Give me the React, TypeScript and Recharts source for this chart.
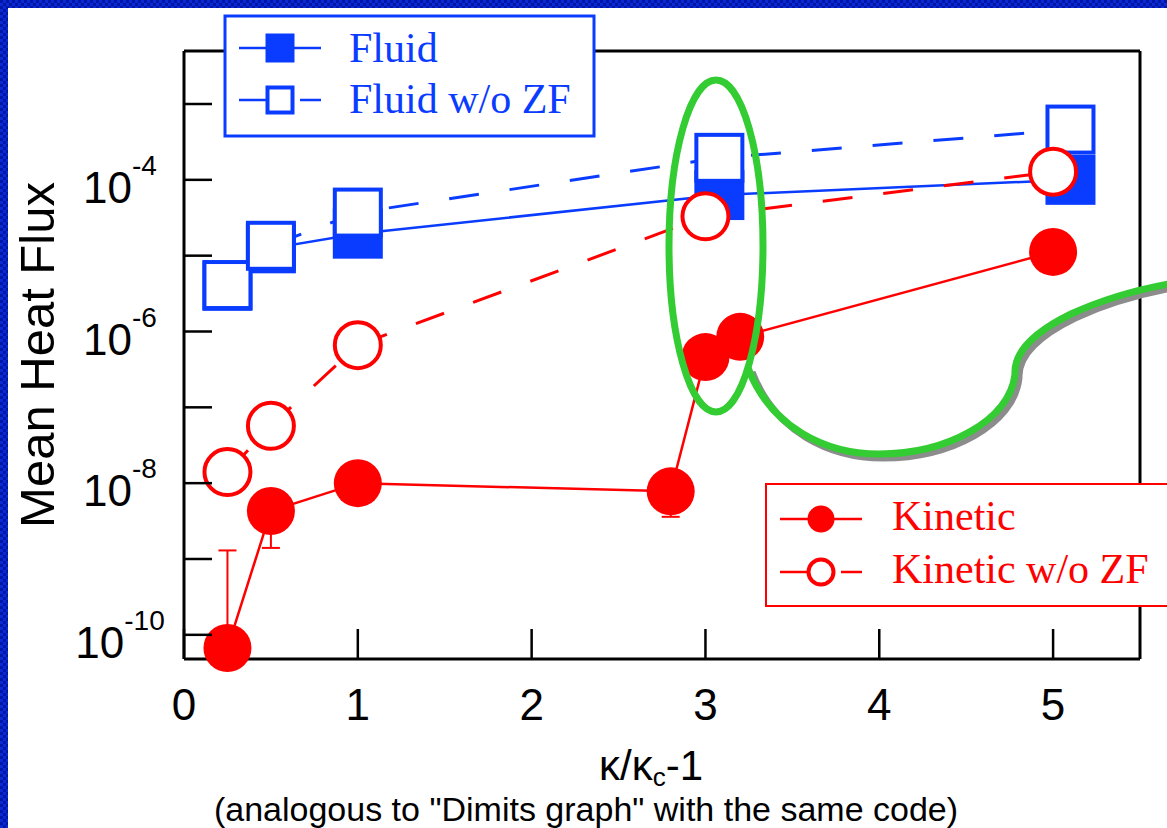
import React from "react";
import { ErrorBar, Line, LineChart, XAxis, YAxis } from "recharts";

// values (heat flux is on a log axis)
const fluidX = [0.25, 0.5, 1, 3.08, 5.1];
const fluidFlux = [4.0e-6, 1.25e-5, 1.95e-5, 6.3e-5, 1.0e-4];

const fluidNoZfX = [0.25, 0.5, 1, 3.08, 5.1];
const fluidNoZfFlux = [4.1e-6, 1.35e-5, 3.7e-5, 1.95e-4, 4.6e-4];

const kineticX = [0.25, 0.5, 1, 2.8, 3, 3.2, 5];
const kineticFlux = [6.7e-11, 4.3e-9, 1.0e-8, 7.8e-9, 4.6e-7, 8.5e-7, 1.12e-5];
const kineticErrLow = [0, 2.9e-9, 0, 4.2e-9, 0, 0, 0];
const kineticErrHigh = [1.23e-9, 0, 0, 0, 0, 0, 0];

const kineticNoZfX = [0.25, 0.5, 1, 3, 5];
const kineticNoZfFlux = [1.4e-8, 5.7e-8, 6.6e-7, 3.3e-5, 1.28e-4];

const xTicks = [0, 1, 2, 3, 4, 5];
const yTicks = [1e-10, 1e-9, 1e-8, 1e-7, 1e-6, 1e-5, 1e-4, 1e-3];
const xDomain = [0, 5.5];
const yDomain = [4.8e-11, 5.0e-3];

const BLUE = "#0a3cff";
const RED = "#ff0000";
const GREEN = "#33cc33";
const SANS = "'Liberation Sans', Arial, sans-serif";
const SERIF = "'Liberation Serif', 'Times New Roman', serif";

const zip = (xs: number[], ys: number[]) => xs.map((x, i) => ({ x, y: ys[i] }));

const fluidData = zip(fluidX, fluidFlux);
const fluidNoZfData = zip(fluidNoZfX, fluidNoZfFlux);
const kineticData = kineticX.map((x, i) => ({
  x,
  y: kineticFlux[i],
  err: [kineticErrLow[i], kineticErrHigh[i]]
}));
const kineticNoZfData = zip(kineticNoZfX, kineticNoZfFlux);

type Series = {
  name: string;
  color: string;
  marker: "square" | "circle";
  filled: boolean;
  dashed: boolean;
};

const fluidSeries: Series[] = [
  { name: "Fluid", color: BLUE, marker: "square", filled: true, dashed: false },
  { name: "Fluid w/o ZF", color: BLUE, marker: "square", filled: false, dashed: true }
];
const kineticSeries: Series[] = [
  { name: "Kinetic", color: RED, marker: "circle", filled: true, dashed: false },
  { name: "Kinetic w/o ZF", color: RED, marker: "circle", filled: false, dashed: true }
];

const DASH = "30 31";

function Marker({ s, cx, cy, size }: { s: Series; cx: number; cy: number; size: number }) {
  if (s.marker === "square") {
    const h = size / 2 - 2;
    return (
      <rect x={cx - h} y={cy - h} width={h * 2} height={h * 2} fill={s.filled ? s.color : "#fff"} stroke={s.color} strokeWidth={4} />
    );
  }
  if (s.filled) return <circle cx={cx} cy={cy} r={size / 2 - 1} fill={s.color} />;
  return <circle cx={cx} cy={cy} r={size / 2 - 2} fill="#fff" stroke={s.color} strokeWidth={4} />;
}

function makeDot(s: Series) {
  return (p: any) => {
    if (p.cx == null || p.cy == null) return <g key={p.index} />;
    return (
      <g key={p.index}>
        <Marker s={s} cx={p.cx} cy={p.cy} size={50} />
      </g>
    );
  };
}

function LeftTick({ x, y, payload }: any) {
  const e = Math.round(Math.log10(payload.value));
  return (
    <g>
      <line x1={x} x2={x + 28} y1={y} y2={y} stroke="#000" strokeWidth={2.5} />
      {e % 2 === 0 && (
        <text x={x - 64} y={y + 23} textAnchor="middle" fontFamily={SANS} fontSize={44} fill="#000">
          <tspan>10</tspan>
          <tspan fontSize={28} dy={-28}>{e}</tspan>
        </text>
      )}
    </g>
  );
}

function RightTick({ x, y }: any) {
  return <line x1={x} x2={x - 28} y1={y} y2={y} stroke="#000" strokeWidth={2.5} />;
}

function BottomTick({ x, y, payload }: any) {
  return (
    <g>
      <line x1={x} x2={x} y1={y} y2={y - 30} stroke="#000" strokeWidth={2.5} />
      <text x={x} y={y + 61} textAnchor="middle" fontFamily={SANS} fontSize={44} fill="#000">
        {payload.value}
      </text>
    </g>
  );
}

function TopTick({ x, y }: any) {
  return <line x1={x} x2={x} y1={y} y2={y + 30} stroke="#000" strokeWidth={2.5} />;
}

function LegendBox({ items, x, y, w, h, color, border, symX, textX, rows, baselines }: any) {
  return (
    <g>
      <rect x={x} y={y} width={w} height={h} fill="#fff" stroke={color} strokeWidth={border} />
      {items.map((s: Series, i: number) => (
        <g key={s.name}>
          <line
            x1={symX - 41}
            x2={symX + 41}
            y1={rows[i]}
            y2={rows[i]}
            stroke={s.color}
            strokeWidth={2.5}
            strokeDasharray={s.dashed ? DASH : undefined}
          />
          <Marker s={s} cx={symX} cy={rows[i]} size={29} />
          <text x={textX} y={baselines[i]} fontFamily={SERIF} fontSize={42} fill={s.color}>
            {s.name}
          </text>
        </g>
      ))}
    </g>
  );
}

export default function App() {
  const axisLine = { stroke: "#000", strokeWidth: 3 };
  return (
    <div
      style={{
        position: "absolute",
        left: 0,
        top: 0,
        width: 1167,
        height: 828,
        overflow: "hidden",
        background: "repeating-conic-gradient(#0b2ad6 0% 25%, #0016a4 0% 50%) 0 0 / 6px 6px"
      }}
    >
      <div style={{ position: "absolute", left: 8, top: 8, right: 0, bottom: 0, background: "#fff" }} />
      <div style={{ position: "absolute", left: 0, top: 0 }}>
        <LineChart width={1167} height={828} margin={{ top: 50, right: 26, bottom: 168, left: 183 }}>
          <XAxis
            xAxisId="bottom"
            dataKey="x"
            type="number"
            domain={xDomain}
            ticks={xTicks}
            height={1}
            tickSize={0}
            tickMargin={0}
            tickLine={false}
            axisLine={axisLine}
            tick={<BottomTick />}
          />
          <XAxis
            xAxisId="top"
            orientation="top"
            dataKey="x"
            type="number"
            domain={xDomain}
            ticks={xTicks}
            height={1}
            tickSize={0}
            tickMargin={0}
            tickLine={false}
            axisLine={axisLine}
            tick={<TopTick />}
          />
          <YAxis
            yAxisId="left"
            type="number"
            scale="log"
            domain={yDomain}
            ticks={yTicks}
            width={1}
            tickSize={0}
            tickMargin={0}
            tickLine={false}
            axisLine={axisLine}
            tick={<LeftTick />}
          />
          <YAxis
            yAxisId="right"
            orientation="right"
            type="number"
            scale="log"
            domain={yDomain}
            ticks={yTicks}
            width={1}
            tickSize={0}
            tickMargin={0}
            tickLine={false}
            axisLine={axisLine}
            tick={<RightTick />}
          />
          <Line
            xAxisId="bottom"
            yAxisId="left"
            data={fluidData}
            dataKey="y"
            name={fluidSeries[0].name}
            stroke={BLUE}
            strokeWidth={2.5}
            dot={makeDot(fluidSeries[0])}
            isAnimationActive={false}
          />
          <Line
            xAxisId="bottom"
            yAxisId="left"
            data={fluidNoZfData}
            dataKey="y"
            name={fluidSeries[1].name}
            stroke={BLUE}
            strokeWidth={3}
            strokeDasharray={DASH}
            dot={makeDot(fluidSeries[1])}
            isAnimationActive={false}
          />
          <Line
            xAxisId="bottom"
            yAxisId="left"
            data={kineticNoZfData}
            dataKey="y"
            name={kineticSeries[1].name}
            stroke={RED}
            strokeWidth={3}
            strokeDasharray={DASH}
            dot={makeDot(kineticSeries[1])}
            isAnimationActive={false}
          />
          <Line
            xAxisId="bottom"
            yAxisId="left"
            data={kineticData}
            dataKey="y"
            name={kineticSeries[0].name}
            stroke={RED}
            strokeWidth={2.5}
            dot={makeDot(kineticSeries[0])}
            isAnimationActive={false}
          >
            <ErrorBar dataKey="err" direction="y" width={9} stroke={RED} strokeWidth={2} isAnimationActive={false} />
          </Line>
        </LineChart>
      </div>
      <svg
        width={1167}
        height={828}
        style={{ position: "absolute", left: 0, top: 0, pointerEvents: "none" }}
      >
        <text x={54} y={355} transform="rotate(-90 54 355)" textAnchor="middle" fontFamily={SANS} fontSize={49} fill="#000">
          Mean Heat Flux
        </text>
        <text x={651} y={780} textAnchor="middle" fontFamily={SANS} fontSize={42} fill="#000">
          κ/κ<tspan fontSize={26} dy={6}>c</tspan>
          <tspan dy={-6}>-1</tspan>
        </text>
        <text x={586} y={821} textAnchor="middle" fontFamily={SANS} fontSize={34} fill="#000">
          (analogous to "Dimits graph" with the same code)
        </text>

        <LegendBox
          items={fluidSeries}
          x={225}
          y={16}
          w={369}
          h={120}
          color={BLUE}
          border={3}
          symX={280}
          textX={349}
          rows={[48, 100]}
          baselines={[62, 113]}
        />
        <LegendBox
          items={kineticSeries}
          x={766}
          y={484}
          w={440}
          h={122}
          color={RED}
          border={2}
          symX={821}
          textX={892}
          rows={[519, 572]}
          baselines={[530, 583]}
        />

        {/* green highlight around the kappa = 3 points */}
        <ellipse cx={716} cy={246} rx={47} ry={166} fill="none" stroke={GREEN} strokeWidth={7} />
        <path
          d="M 752 372 C 775 432, 830 458, 883 458 C 950 458, 1014 425, 1019 378 C 1018 360, 1030 340, 1075 318 C 1105 304, 1140 294, 1172 288"
          fill="none"
          stroke="#8c8c8c"
          strokeWidth={7}
        />
        <path
          d="M 748 368 C 771 428, 826 454, 879 454 C 946 454, 1010 421, 1015 374 C 1014 356, 1026 336, 1071 314 C 1101 300, 1136 290, 1168 284"
          fill="none"
          stroke={GREEN}
          strokeWidth={7}
        />
      </svg>
    </div>
  );
}
